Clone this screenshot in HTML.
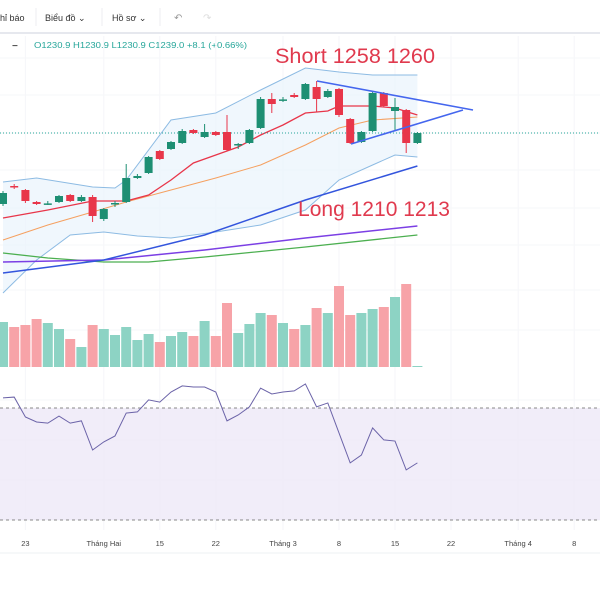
<!DOCTYPE html>
<html><head><meta charset="utf-8"><style>
html,body{margin:0;padding:0;background:#fff;width:600px;height:600px;overflow:hidden;font-family:"Liberation Sans","Noto Sans CJK SC",sans-serif}
</style></head><body>
<svg id="c" width="600" height="600" xmlns="http://www.w3.org/2000/svg"></svg>
<script>
const opens=[1203.5,1212.5,1210.5,1204.5,1203.5,1204.5,1208,1205,1207,1196,1203.5,1204.5,1216.5,1219,1230,1231,1234,1240.5,1237,1239.5,1239.5,1233,1234,1241.5,1256,1255.5,1258,1256,1262,1257,1261,1246,1234.5,1240,1259,1250,1250.5,1234];
const closes=[1209,1212,1205,1203.5,1203.8,1207.5,1205,1207,1197.5,1201,1204,1216.5,1217.5,1227,1226,1234.5,1240,1239,1239.5,1238,1230.5,1233.5,1240.5,1256,1253.5,1255.8,1257,1263.5,1256,1260,1248,1234,1239.5,1259,1252.5,1252,1234,1239];
const highs=[1210,1213.5,1211,1205,1205,1208,1208.5,1208,1208,1201.5,1205,1223.5,1218.5,1227.5,1230.5,1235,1241,1241,1243.5,1240,1248,1234,1241,1257,1259,1257,1259,1264,1265,1261,1261.5,1246.5,1240,1259.5,1259.5,1256.5,1251,1239.5];
const lows=[1202.5,1211,1204,1203,1203,1204,1204.5,1204.5,1194.5,1195,1202,1204,1216,1218.5,1225.5,1230.5,1233.5,1238.5,1236.5,1237.5,1230,1231,1233.5,1241,1249,1254.5,1256.5,1255.5,1249.5,1256.5,1247,1233.5,1234,1239.5,1252,1240.5,1229,1233.5];
const volumes=[45,40,42,48,44,38,28,20,42,38,32,40,27,33,25,31,35,31,46,31,64,34,43,54,52,44,38,42,59,54,81,52,54,58,60,70,83,1];
const rsi=[73.6,73.9,66.8,65,64.6,67.1,64.6,65.4,55,57.9,60,68.2,68.6,72.9,72.1,75.7,77.9,77.5,77.5,75.7,65.4,67.5,70.4,77.1,75,75.7,76.1,78.6,70.4,71.8,61.1,50.4,53.2,62.9,58.6,58.2,47.9,50.4];
const redIdx=[0,4,8,11,13,15,17,19,21,23,25,27,29,30,33,35,37];
const redVal=[1196.5,1200.5,1205,1205,1208,1215.5,1224,1228,1232,1238,1243,1249,1250,1252.5,1252.5,1251.5,1248];
const orgIdx=[0,4,8,11,15,19,23,27,30,33,37];
const orgVal=[1185.5,1193,1199.5,1204.5,1210.5,1216.5,1223,1233,1241.5,1245.5,1247];
const bbuIdx=[0,3,8,10,11,15,19,23,27,30,33,37];
const bbuVal=[1214.5,1216.5,1212,1211.5,1215.5,1245.5,1249,1260.5,1271.5,1269.5,1268,1268];
const bblIdx=[0,3,6,9,12,15,19,23,27,30,33,35,37];
const bblVal=[1159,1175.5,1188,1189.5,1187.5,1186.5,1189.5,1193,1200.5,1215.5,1223,1228,1227];
const ma1Idx=[0,9,18,27,37];const ma1Val=[1169,1175.5,1188,1205.5,1222.5];
const ma2Idx=[0,9,18,27,37];const ma2Val=[1174.5,1175.5,1180.5,1186.5,1192.5];
const ma3Idx=[0,4,9,13,18,27,37];const ma3Val=[1179,1176.5,1174.5,1174.5,1177,1182,1188];
const xLabels=["23","Tháng Hai","15","22","Tháng 3","8","15","22","Tháng 4","8"];
const xLabelIdx=[2,9,14,19,25,30,35,40,46,51];

const NS="http://www.w3.org/2000/svg";const svg=document.getElementById('c');
const X=i=>3+i*11.2;
const Y=p=>133-(p-1239)*2;
const VY=v=>367-v;
const RY=r=>408+(70-r)*2.8;
function el(t,a,p){const e=document.createElementNS(NS,t);for(const k in a)e.setAttribute(k,a[k]);(p||svg).appendChild(e);return e;}
function txt(s,a){const e=el('text',a);e.textContent=s;return e;}
let e;
e=txt('hỉ báo',{x:0,y:21,'font-size':9,fill:'#333'});
e=txt('Biểu đồ ⌄',{x:45,y:21,'font-size':9,fill:'#333'});
e=txt('Hồ sơ ⌄',{x:112,y:21,'font-size':9,fill:'#333'});
e=txt('↶',{x:174,y:21,'font-size':10,fill:'#999'});
e=txt('↷',{x:203,y:21,'font-size':10,fill:'#ddd'});
el('line',{x1:0,y1:33,x2:600,y2:33,stroke:'#e6e8ee','stroke-width':2});
el('line',{x1:36,y1:8,x2:36,y2:26,stroke:'#eceef2'});el('line',{x1:102,y1:8,x2:102,y2:26,stroke:'#eceef2'});el('line',{x1:160,y1:8,x2:160,y2:26,stroke:'#eceef2'});
e=txt('−',{x:12,y:49,'font-size':10,fill:'#555','font-weight':'bold'});
e=txt('O1230.9 H1230.9 L1230.9 C1239.0 +8.1 (+0.66%)',{x:34,y:48,'font-size':8,fill:'#26a69a',textLength:213,lengthAdjust:'spacingAndGlyphs'});
for(let k=0;k<xLabels.length;k++){el('line',{x1:X(xLabelIdx[k]),y1:36,x2:X(xLabelIdx[k]),y2:530,stroke:'#f5f6f9'});}
[58,95,133,170,208,245,290,330,400,440,480,520].forEach(y=>el('line',{x1:0,y1:y,x2:600,y2:y,stroke:'#f6f7f9'}));
function pts(idx,val,f){return idx.map((i,k)=>X(i)+','+f(val[k]));}
const up=pts(bbuIdx,bbuVal,Y),lo=pts(bblIdx,bblVal,Y).reverse();
e=el('polygon',{points:up.concat(lo).join(' '),fill:'#eaf4fc','fill-opacity':0.7});
function line(idx,val,color,w,name){const p=el('polyline',{points:pts(idx,val,Y).join(' '),fill:'none',stroke:color,'stroke-width':w});}
line(bbuIdx,bbuVal,'#8dbbe3',1,'bollinger-upper');
line(bblIdx,bblVal,'#8dbbe3',1,'bollinger-lower');
line(ma3Idx,ma3Val,'#4caf50',1.3,'ma-green');
line(ma2Idx,ma2Val,'#7b3fe4',1.5,'ma-purple');
line(ma1Idx,ma1Val,'#3355dd',1.5,'ma-blue');
line(orgIdx,orgVal,'#f5a060',1,'ma-orange');
line(redIdx,redVal,'#e8364a',1.3,'ma-red');
el('line',{x1:0,y1:Y(1239),x2:600,y2:Y(1239),stroke:'#26a69a','stroke-dasharray':'1,2','stroke-width':1});
for(let i=0;i<opens.length;i++){
 const g=closes[i]>=opens[i],c=g?'#1e8f73':'#e8364a';
 const w=el('line',{x1:X(i),x2:X(i),y1:Y(highs[i]),y2:Y(lows[i]),stroke:c,'stroke-width':1});
 
 const t=Y(Math.max(opens[i],closes[i])),b=Y(Math.min(opens[i],closes[i]));
 const r=el('rect',{x:X(i)-4,y:t,width:8,height:Math.max(1.5,b-t),fill:c});
 
}
e=el('line',{x1:317,y1:81,x2:473,y2:110,stroke:'#4466ee','stroke-width':1.6});
e=el('line',{x1:351,y1:144,x2:463,y2:110,stroke:'#4466ee','stroke-width':1.6});
e=txt('Short 1258 1260',{x:275,y:63,'font-size':21,fill:'#e03a4e',textLength:160,lengthAdjust:'spacingAndGlyphs'});
e=txt('Long 1210 1213',{x:298,y:216,'font-size':21,fill:'#e03a4e',textLength:152,lengthAdjust:'spacingAndGlyphs'});
for(let i=0;i<volumes.length;i++){
 const c=(i===volumes.length-1||closes[i]>=opens[i])?'#8dd3c4':'#f7a3a8';
 const r=el('rect',{x:X(i)-5,y:VY(volumes[i]),width:10,height:volumes[i],fill:c});
 
}
e=el('rect',{x:0,y:RY(70),width:600,height:RY(30)-RY(70),fill:'#ede8f8','fill-opacity':0.8});
el('line',{x1:0,y1:RY(70),x2:600,y2:RY(70),stroke:'#888','stroke-dasharray':'3,3'});
el('line',{x1:0,y1:RY(30),x2:600,y2:RY(30),stroke:'#888','stroke-dasharray':'3,3'});
e=el('polyline',{points:rsi.map((r,i)=>X(i)+','+RY(r)).join(' '),fill:'none',stroke:'#6b63a8','stroke-width':1});
for(let k=0;k<xLabels.length;k++){const t=txt(xLabels[k],{x:X(xLabelIdx[k]),y:546,'font-size':7.5,fill:'#444','text-anchor':'middle'});
 }
el('line',{x1:0,y1:553,x2:600,y2:553,stroke:'#eef0f3'});
</script>
</body></html>
